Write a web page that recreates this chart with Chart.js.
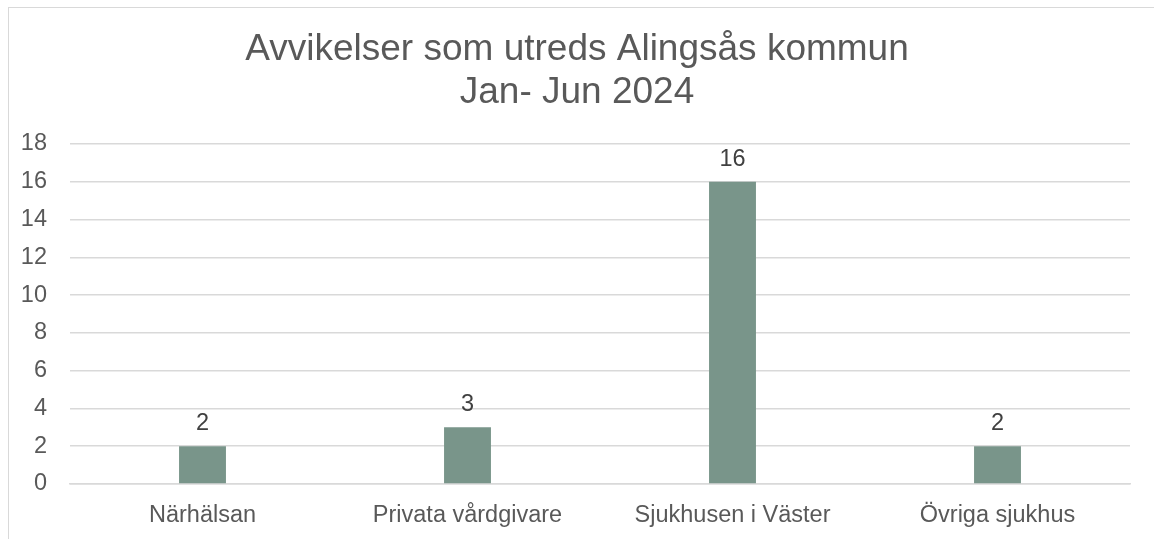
<!DOCTYPE html>
<html>
<head>
<meta charset="utf-8">
<script src="https://cdn.jsdelivr.net/npm/chart.js@4/dist/chart.umd.min.js"></script>
<style>
    html, body { margin: 0; padding: 0; background: #fff; overflow: hidden; }
    #frame { position: absolute; left: 8px; top: 7px; width: 1200px; height: 600px; border: 1.5px solid #d9d9d9; }
    #wrap { position: absolute; left: 0; top: 0; width: 1154px; height: 539px; }
</style>
</head>
<body>
<div id="frame"></div>
<div id="wrap"><canvas id="chart"></canvas></div>
<script>
var titleLines = [ 'Avvikelser som utreds Alingsås kommun', 'Jan- Jun 2024' ];
var categories = [ 'Närhälsan', 'Privata vårdgivare', 'Sjukhusen i Väster', 'Övriga sjukhus' ];
var values = [ 2, 3, 16, 2 ];
var yTicks = [ 0, 2, 4, 6, 8, 10, 12, 14, 16, 18 ];

var fontFamily = '"Liberation Sans", Arial, sans-serif';

// title centred on the whole canvas (the frame is wider than the plot)
var pageTitle = {
    id: 'pageTitle',
    afterDraw: function ( chart ) {
        var ctx = chart.ctx;
        ctx.save();
        ctx.font = '37px ' + fontFamily;
        ctx.fillStyle = '#595959';
        ctx.textAlign = 'center';
        ctx.textBaseline = 'alphabetic';
        titleLines.forEach( function ( line, i ) {
            ctx.fillText( line, chart.width / 2, 60 + i * 43 );
        } );
        ctx.restore();
    }
};

// value labels above each bar
var barLabels = {
    id: 'barLabels',
    afterDatasetsDraw: function ( chart ) {
        var ctx = chart.ctx;
        var meta = chart.getDatasetMeta( 0 );
        ctx.save();
        ctx.font = '23.5px ' + fontFamily;
        ctx.fillStyle = '#404040';
        ctx.textAlign = 'center';
        ctx.textBaseline = 'alphabetic';
        meta.data.forEach( function ( bar, i ) {
            ctx.fillText( String( values[ i ] ), bar.x, bar.y - 16 );
        } );
        ctx.restore();
    }
};

new Chart( document.getElementById( 'chart' ), {
    type: 'bar',
    data: {
        labels: categories,
        datasets: [ {
            data: values,
            backgroundColor: '#79958a',
            categoryPercentage: 1,
            barPercentage: 0.177
        } ]
    },
    options: {
        responsive: true,
        maintainAspectRatio: false,
        animation: false,
        layout: { padding: { left: 0, right: 24, top: 144, bottom: 0 } },
        plugins: {
            legend: { display: false },
            tooltip: { enabled: false },
            title: { display: false }
        },
        scales: {
            x: {
                grid: { display: false, drawTicks: false },
                border: { display: true, color: '#d9d9d9', width: 1.5 },
                ticks: {
                    color: '#595959',
                    font: { family: fontFamily, size: 23.5 },
                    padding: 17,
                    maxRotation: 0
                },
                afterFit: function ( scale ) { scale.height = 55; }
            },
            y: {
                min: 0,
                max: 18,
                afterBuildTicks: function ( scale ) {
                    scale.ticks = yTicks.map( function ( v ) { return { value: v }; } );
                },
                grid: { color: '#d9d9d9', lineWidth: 1.5, drawTicks: false },
                border: { display: false },
                ticks: {
                    color: '#595959',
                    font: { family: fontFamily, size: 23.5 },
                    padding: 23
                },
                afterFit: function ( scale ) { scale.width = 70; }
            }
        }
    },
    plugins: [ barLabels, pageTitle ]
} );
</script>
</body>
</html>
